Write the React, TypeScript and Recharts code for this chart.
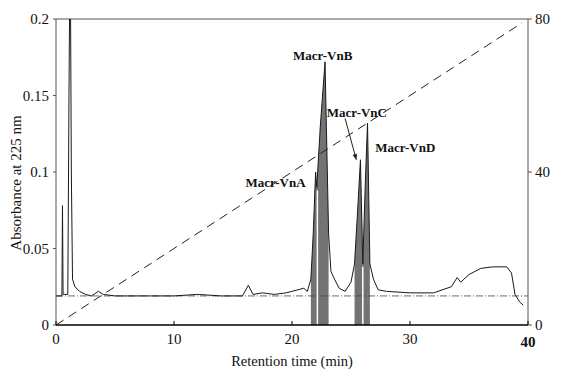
import { ComposedChart, Line, Area, XAxis, YAxis, ReferenceLine, ReferenceDot } from "recharts";

// retention time (min) and absorbance at 225 nm
const times = [0, 0.5, 0.55, 0.6, 1.0, 1.1, 1.2, 1.3, 1.4, 1.6, 2.0, 2.5, 3.0, 3.6, 4.0, 5, 8, 10, 12, 14, 15.8, 16.3, 16.7, 17.5, 18.5, 19.5, 20.5, 21.0, 21.3, 21.6, 21.8, 22.0, 22.1, 22.4, 22.8, 23.1, 23.3, 23.6, 24.0, 24.5, 25.0, 25.3, 25.6, 25.8, 26.0, 26.2, 26.4, 26.6, 26.9, 27.3, 28, 30, 32, 33.5, 34.0, 34.3, 35, 36, 37, 38.2, 38.6, 38.9, 39.3, 39.6];
const absorbance = [0.019, 0.019, 0.078, 0.02, 0.02, 0.15, 0.26, 0.1, 0.03, 0.025, 0.022, 0.02, 0.019, 0.022, 0.02, 0.019, 0.019, 0.019, 0.02, 0.019, 0.019, 0.026, 0.02, 0.021, 0.02, 0.021, 0.023, 0.024, 0.022, 0.03, 0.06, 0.1, 0.09, 0.13, 0.172, 0.06, 0.035, 0.03, 0.024, 0.022, 0.028, 0.04, 0.08, 0.108, 0.04, 0.09, 0.132, 0.04, 0.03, 0.023, 0.022, 0.021, 0.021, 0.025, 0.031, 0.028, 0.033, 0.037, 0.038, 0.038, 0.034, 0.02, 0.015, 0.013];

// acetonitrile gradient (%)
const gradientTimes = [0, 39.5];
const gradientValues = [0, 79];

const baseline = 0.019;

// stippled (collected) peak windows and the light gaps between fractions
const peakWindows = [[21.6, 23.2], [25.2, 26.7]];
const gapTimes = [22.15, 26.0];
const gapTops = [0.088, 0.038];

const peakLabels = ["Macr-VnA", "Macr-VnB", "Macr-VnC", "Macr-VnD"];
const labelTimes = [18.6, 22.6, 25.5, 29.6];
const labelAbs = [0.093, 0.176, 0.139, 0.116];

const xTicks = [0, 10, 20, 30, 40];
const leftTicks = [0, 0.05, 0.1, 0.15, 0.2];
const rightTicks = [0, 40, 80];

const trace = times.map((t, i) => ({ t, a: absorbance[i] }));
const gradient = gradientTimes.map((t, i) => ({ t, g: gradientValues[i] }));
const peaks = peakWindows.map(([s, e]) => trace.filter(p => p.t >= s && p.t <= e));

const serif = "'Liberation Serif', 'Times New Roman', serif";

const XTick = (props: any) => {
    const { x, y, payload } = props;
    const last = payload.value === 40;
    return (
        <g>
            <line x1={x} x2={x} y1={y - 8} y2={y - 12} stroke="#000" />
            <text x={x} y={y + (last ? 3 : 0)} dy="0.71em" textAnchor="middle" fontFamily={serif} fontSize={15} fontWeight={last ? "bold" : "normal"} fill="#111">
                {payload.value}
            </text>
        </g>
    );
};

const ArrowShape = (props: any) => {
    const { x1, y1, x2, y2 } = props;
    if (x1 == null) return null;
    const ang = Math.atan2(y2 - y1, x2 - x1);
    const len = 6;
    const ax = x2 - len * Math.cos(ang - 0.4);
    const ay = y2 - len * Math.sin(ang - 0.4);
    const bx = x2 - len * Math.cos(ang + 0.4);
    const by = y2 - len * Math.sin(ang + 0.4);
    return (
        <g>
            <line x1={x1} y1={y1} x2={x2} y2={y2} stroke="#222" strokeWidth={1} />
            <polygon points={`${x2},${y2} ${ax},${ay} ${bx},${by}`} fill="#222" />
        </g>
    );
};

function App() {
    return (
        <div style={{ position: "absolute", left: 0, top: 0 }}>
            <ComposedChart width={562} height={371} margin={{ top: 19, right: 0, bottom: 6, left: 0 }}>
                <XAxis
                    xAxisId="x"
                    type="number"
                    dataKey="t"
                    domain={[0, 40]}
                    ticks={xTicks}
                    allowDataOverflow
                    tickSize={0}
                    tickMargin={8}
                    tickLine={false}
                    tick={<XTick />}
                    axisLine={{ stroke: "#000", strokeWidth: 1.5 }}
                    height={40}
                    label={{ value: "Retention time (min)", position: "insideBottom", offset: -1, style: { fontFamily: serif, fontSize: 14.5, fill: "#111" } }}
                />
                <YAxis
                    yAxisId="left"
                    type="number"
                    domain={[0, 0.2]}
                    ticks={leftTicks}
                    allowDataOverflow
                    width={56}
                    tickSize={3}
                    tickMargin={4}
                    tickFormatter={(v: number) => String(v)}
                    tick={{ fontFamily: serif, fontSize: 15, fill: "#111" }}
                    axisLine={{ stroke: "#555" }}
                    tickLine={{ stroke: "#555" }}
                    label={{
                        content: () => (
                            <text x={18} y={183} transform="rotate(-90 18 183)" textAnchor="middle" dominantBaseline="middle" fontFamily={serif} fontSize={15} fill="#111">
                                Absorbance at 225 nm
                            </text>
                        ),
                    }}
                />
                <YAxis
                    yAxisId="right"
                    orientation="right"
                    type="number"
                    domain={[0, 80]}
                    ticks={rightTicks}
                    width={34}
                    tickSize={4}
                    tickMargin={3}
                    tick={{ fontFamily: serif, fontSize: 15, fill: "#111" }}
                    axisLine={{ stroke: "#555" }}
                    tickLine={{ stroke: "#555" }}
                />
                <ReferenceLine xAxisId="x" yAxisId="left" y={0.2} stroke="#555" />
                <ReferenceLine xAxisId="x" yAxisId="left" y={baseline} stroke="#444" strokeDasharray="7 2 1 2" strokeWidth={0.8} />
                {peaks.map((p, i) => (
                    <Area
                        key={i}
                        xAxisId="x"
                        yAxisId="left"
                        data={p}
                        dataKey="a"
                        type="linear"
                        stroke="none"
                        fill="#737373"
                        fillOpacity={1}
                        isAnimationActive={false}
                    />
                ))}
                {gapTimes.map((g, i) => (
                    <ReferenceLine
                        key={g}
                        xAxisId="x"
                        yAxisId="left"
                        segment={[{ x: g, y: 0 }, { x: g, y: gapTops[i] }]}
                        stroke="#fff"
                        strokeWidth={1.5}
                    />
                ))}
                <Line
                    xAxisId="x"
                    yAxisId="right"
                    data={gradient}
                    dataKey="g"
                    type="linear"
                    stroke="#222"
                    strokeWidth={1}
                    strokeDasharray="9 6"
                    dot={false}
                    isAnimationActive={false}
                />
                <Line
                    xAxisId="x"
                    yAxisId="left"
                    data={trace}
                    dataKey="a"
                    type="linear"
                    stroke="#1a1a1a"
                    strokeWidth={1}
                    dot={false}
                    isAnimationActive={false}
                />
                <ReferenceLine
                    xAxisId="x"
                    yAxisId="left"
                    segment={[{ x: 24.5, y: 0.135 }, { x: 25.45, y: 0.108 }]}
                    shape={<ArrowShape />}
                />
                {peakLabels.map((name, i) => (
                    <ReferenceDot
                        key={name}
                        xAxisId="x"
                        yAxisId="left"
                        x={labelTimes[i]}
                        y={labelAbs[i]}
                        r={0}
                        fill="none"
                        stroke="none"
                        label={{ value: name, position: "center", style: { fontFamily: serif, fontSize: 13, fontWeight: "bold", fill: "#111" } }}
                    />
                ))}
            </ComposedChart>
        </div>
    );
}

export default App
